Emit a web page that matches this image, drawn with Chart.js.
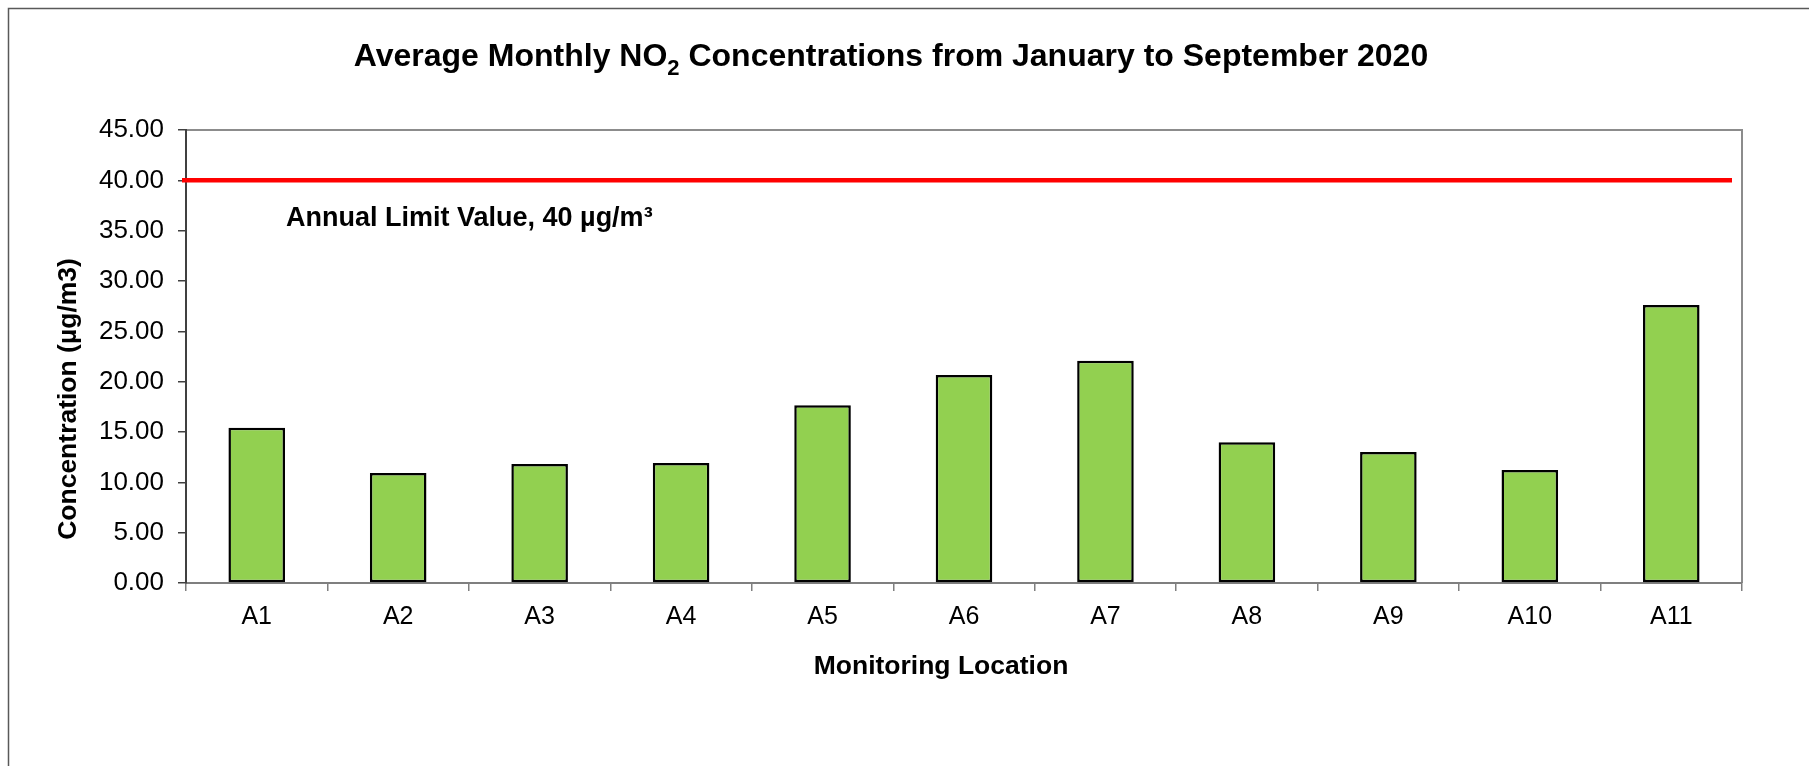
<!DOCTYPE html>
<html>
<head>
<meta charset="utf-8">
<script src="https://cdn.jsdelivr.net/npm/chart.js@4/dist/chart.umd.min.js"></script>
<style>
  html, body { margin: 0; padding: 0; background: #fff; }
  #wrap { position: relative; width: 1809px; height: 766px; }
</style>
</head>
<body>
<div id="wrap"><canvas id="no2Chart"></canvas></div>
<script>
// data
const locations = ["A1", "A2", "A3", "A4", "A5", "A6", "A7", "A8", "A9", "A10", "A11"];
const no2Values = [15.43, 10.93, 11.82, 11.92, 17.65, 20.66, 22.08, 13.97, 13.01, 11.22, 27.61];
const limitValue = 40;
const yMin = 0, yMax = 45, yStep = 5;

// text
const titleParts = ["Average Monthly NO", "2", " Concentrations from January to September 2020"];
const yAxisTitle = "Concentration (µg/m3)";
const xAxisTitle = "Monitoring Location";
const limitLabel = "Annual Limit Value, 40 µg/m³";

const FONT = "'Liberation Sans', Arial, sans-serif";

const decorations = {
  id: "decorations",
  beforeDraw(chart) {
    const { ctx, chartArea: a } = chart;
    ctx.save();
    // outer frame
    ctx.strokeStyle = "#595959";
    ctx.lineWidth = 1.5;
    ctx.beginPath();
    ctx.moveTo(8.5, 766);
    ctx.lineTo(8.5, 8.5);
    ctx.lineTo(1809, 8.5);
    ctx.stroke();
    // plot frame top / right
    ctx.strokeStyle = "#8c8c8c";
    ctx.lineWidth = 2;
    ctx.beginPath();
    ctx.moveTo(a.left, a.top);
    ctx.lineTo(a.right, a.top);
    ctx.lineTo(a.right, a.bottom);
    ctx.stroke();
    ctx.restore();
  },
  afterDraw(chart) {
    const { ctx, chartArea: a, scales } = chart;
    const yLimit = scales.y.getPixelForValue(limitValue);
    ctx.save();
    // limit line
    ctx.strokeStyle = "#ff0000";
    ctx.lineWidth = 4.5;
    ctx.beginPath();
    ctx.moveTo(a.left - 4, yLimit);
    ctx.lineTo(a.right - 10, yLimit);
    ctx.stroke();

    ctx.fillStyle = "#000";
    ctx.textBaseline = "alphabetic";

    // limit label
    ctx.font = "bold 27px " + FONT;
    ctx.textAlign = "left";
    ctx.fillText(limitLabel, a.left + 100, yLimit + 46);

    // main title with subscript
    const mainFont = "bold 32px " + FONT;
    const subFont = "bold 22px " + FONT;
    ctx.font = mainFont;
    const w1 = ctx.measureText(titleParts[0]).width;
    const w3 = ctx.measureText(titleParts[2]).width;
    ctx.font = subFont;
    const w2 = ctx.measureText(titleParts[1]).width;
    let x = 891 - (w1 + w2 + w3) / 2;
    ctx.font = mainFont;
    ctx.fillText(titleParts[0], x, 66);
    ctx.font = subFont;
    ctx.fillText(titleParts[1], x + w1, 75);
    ctx.font = mainFont;
    ctx.fillText(titleParts[2], x + w1 + w2, 66);

    // x axis title
    ctx.font = "bold 26.5px " + FONT;
    ctx.textAlign = "center";
    ctx.fillText(xAxisTitle, 941, 674);

    // y axis title
    ctx.translate(76, 399);
    ctx.rotate(-Math.PI / 2);
    ctx.fillText(yAxisTitle, 0, 0);
    ctx.restore();
  }
};

new Chart(document.getElementById("no2Chart"), {
  type: "bar",
  data: {
    labels: locations,
    datasets: [
      {
        label: "NO2",
        data: no2Values,
        backgroundColor: "#92d050",
        borderColor: "#000000",
        borderWidth: 2.5,
        borderSkipped: false,
        barPercentage: 0.4,
        categoryPercentage: 1.0,
      },
    ],
  },
  options: {
    responsive: true,
    maintainAspectRatio: false,
    animation: false,
    layout: { padding: { top: 130, right: 67, bottom: 0, left: 0 } },
    plugins: {
      legend: { display: false },
      tooltip: { enabled: false },
      title: { display: false },
    },
    scales: {
      x: {
        afterFit: (scale) => { scale.height = 183; },
        grid: { drawOnChartArea: false, tickLength: 8, color: "#7f7f7f", lineWidth: 1.5 },
        border: { color: "#7f7f7f", width: 2 },
        ticks: { color: "#000", padding: 11, font: { family: FONT, size: 25 } },
      },
      y: {
        min: yMin,
        max: yMax,
        afterFit: (scale) => { scale.width = 186; },
        grid: { drawOnChartArea: false, tickLength: 8, color: "#404040", lineWidth: 1.5 },
        border: { color: "#404040", width: 2 },
        ticks: {
          stepSize: yStep,
          color: "#000",
          padding: 14,
          font: { family: FONT, size: 26 },
          callback: (v) => v.toFixed(2),
        },
      },
    },
  },
  plugins: [decorations],
});
</script>
</body>
</html>
